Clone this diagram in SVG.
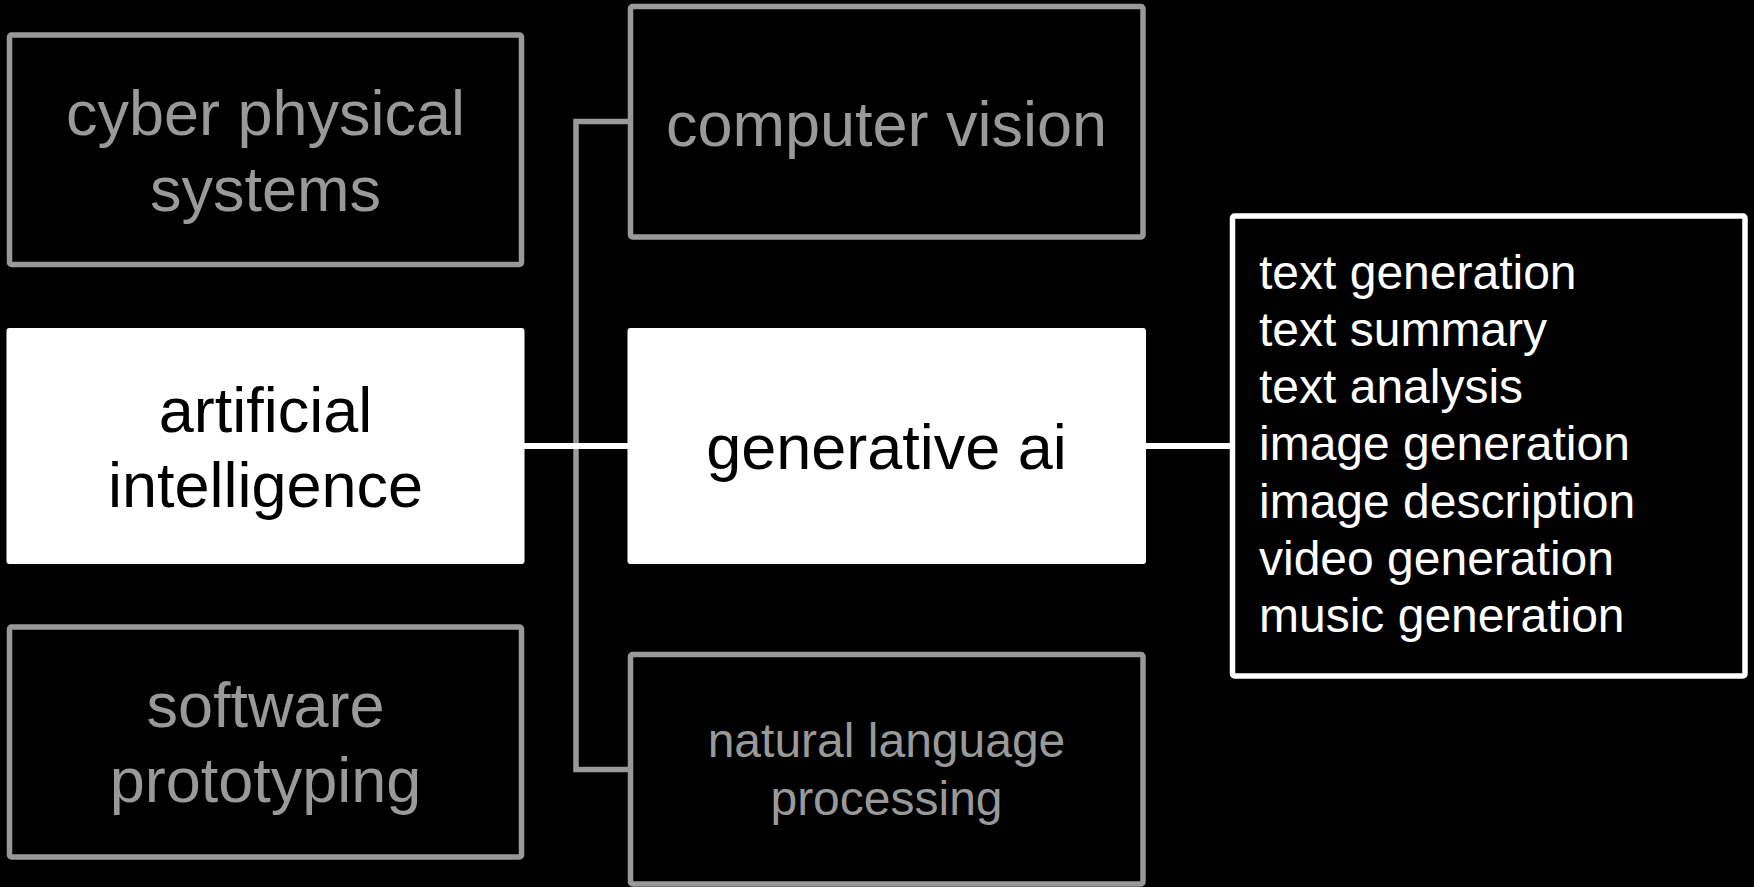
<svg xmlns="http://www.w3.org/2000/svg" width="1754" height="887" viewBox="0 0 1754 887">
<style>
.gbox{fill:#000;stroke:#999;stroke-width:5.5}
.wbox{fill:#fff;stroke:none}
.lbox{fill:#000;stroke:#fff;stroke-width:5.5}
.gt{fill:#999;font-family:"Liberation Sans",Arial,sans-serif;font-size:63px;text-anchor:middle}
.gs{fill:#999;font-family:"Liberation Sans",Arial,sans-serif;font-size:48px;text-anchor:middle}
.bt{fill:#000;font-family:"Liberation Sans",Arial,sans-serif;font-size:63px;text-anchor:middle}
.lt{fill:#fff;font-family:"Liberation Sans",Arial,sans-serif;font-size:48px}
.gc{fill:none;stroke:#999;stroke-width:5.5}
.wc{fill:none;stroke:#fff;stroke-width:6}
</style>
<rect width="1754" height="887" fill="#000"/>
<g id="connectors">
<path class="gc" d="M629,121.5 H576 V769.5 H629"/>
<path class="wc" d="M524,446 H628"/>
<path class="wc" d="M1146,446 H1231"/>
</g>
<g id="cyber-physical-systems">
<rect class="gbox" x="9.5" y="35" width="512" height="229.5" rx="2"/>
<text class="gt" x="265.5" y="135">cyber physical</text>
<text class="gt" x="265.5" y="210.5">systems</text>
</g>
<g id="artificial-intelligence">
<rect class="wbox" x="6.5" y="328" width="518" height="236" rx="3"/>
<text class="bt" x="265.5" y="431.5">artificial</text>
<text class="bt" x="265.5" y="506.5">intelligence</text>
</g>
<g id="software-prototyping">
<rect class="gbox" x="9.5" y="627" width="512" height="230" rx="2"/>
<text class="gt" x="265.5" y="726.5">software</text>
<text class="gt" x="265.5" y="801.5">prototyping</text>
</g>
<g id="computer-vision">
<rect class="gbox" x="630.5" y="6.5" width="512.5" height="230.5" rx="2"/>
<text class="gt" x="886.5" y="145.5">computer vision</text>
</g>
<g id="generative-ai">
<rect class="wbox" x="627.5" y="328" width="518.5" height="236" rx="3"/>
<text class="bt" x="886.5" y="468.5">generative ai</text>
</g>
<g id="natural-language-processing">
<rect class="gbox" x="630.5" y="654.5" width="512.5" height="229.5" rx="2"/>
<text class="gs" x="886.5" y="756.5">natural language</text>
<text class="gs" x="886.5" y="815">processing</text>
</g>
<g id="capabilities">
<rect class="lbox" x="1232.5" y="216" width="512.5" height="460" rx="2"/>
<text class="lt" x="1259" y="288.5">text generation</text>
<text class="lt" x="1259" y="345.75">text summary</text>
<text class="lt" x="1259" y="403">text analysis</text>
<text class="lt" x="1259" y="460.25">image generation</text>
<text class="lt" x="1259" y="517.5">image description</text>
<text class="lt" x="1259" y="574.75">video generation</text>
<text class="lt" x="1259" y="632">music generation</text>
</g>
</svg>
